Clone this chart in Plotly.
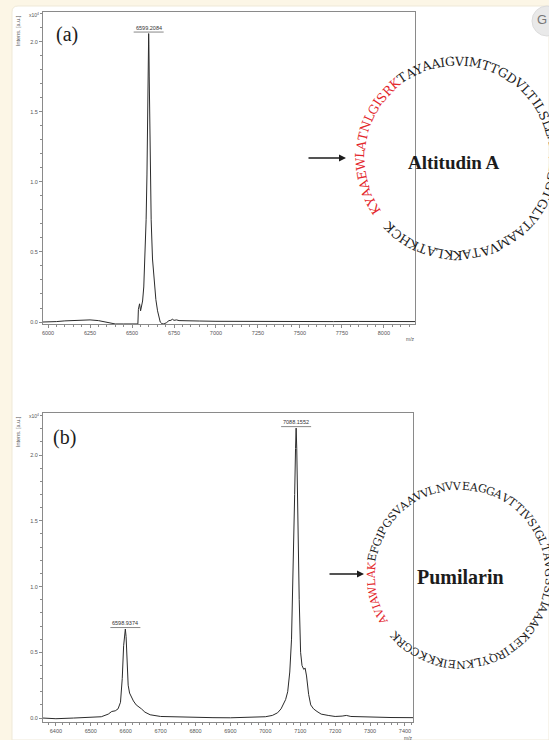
import numpy as np
import plotly.graph_objects as go

# ---------------- data ----------------
mz_a = [5970, 6000, 6050, 6100, 6150, 6200, 6250, 6300, 6350, 6380, 6400, 6450, 6500, 6535,
        6538, 6545, 6551, 6556, 6563, 6570, 6577, 6584, 6589, 6593, 6596, 6598, 6599.2,
        6600.5, 6602.5, 6605, 6609, 6614, 6622, 6632, 6642, 6652, 6660, 6668, 6678, 6690,
        6705, 6720, 6732, 6740, 6750, 6765, 6780, 6820, 6900, 7000, 7100, 7250, 7400, 7550,
        7700, 7850, 8000, 8185]
int_a = [0.0, 0.0, 0.003, 0.008, 0.012, 0.015, 0.015, 0.01, 0.0, -0.008, -0.014, -0.014, -0.014, -0.014,
         0.09, 0.13, 0.08, 0.11, 0.15, 0.25, 0.45, 0.73, 1.05, 1.4, 1.75, 1.98, 2.06,
         1.98, 1.75, 1.4, 1.05, 0.73, 0.45, 0.28, 0.16, 0.08, 0.03, 0.0, -0.012, -0.014,
         -0.005, 0.01, 0.012, 0.02, 0.012, 0.015, 0.01, 0.008, 0.007, 0.005, 0.004, 0.004, 0.003, 0.004,
         0.003, 0.004, 0.003, 0.003]

mz_b = [6363, 6400, 6450, 6500, 6530, 6550, 6560, 6570, 6578, 6585, 6590, 6594, 6597, 6598.9,
        6601, 6604, 6607, 6611, 6616, 6622, 6630, 6638, 6645, 6655, 6670, 6700, 6750, 6800,
        6850, 6900, 6950, 7000, 7020, 7035, 7045, 7052, 7058, 7064, 7070, 7075, 7080, 7084,
        7086.5, 7088.2, 7090, 7093, 7097, 7101, 7105, 7110, 7114, 7118, 7124, 7130, 7138, 7148,
        7160, 7180, 7200, 7220, 7232, 7245, 7280, 7320, 7360, 7423]
int_b = [0.0, -0.005, 0.0, 0.003, 0.01, 0.03, 0.05, 0.055, 0.07, 0.12, 0.3, 0.55, 0.66, 0.677,
         0.62, 0.4, 0.25, 0.19, 0.16, 0.13, 0.1, 0.085, 0.07, 0.045, 0.025, 0.012, 0.008, 0.005,
         0.003, 0.002, 0.005, 0.01, 0.02, 0.04, 0.07, 0.11, 0.14, 0.2, 0.35, 0.6, 1.1, 1.7,
         2.05, 2.205, 2.05, 1.5, 0.9, 0.5, 0.4, 0.37, 0.38, 0.32, 0.18, 0.1, 0.07, 0.05,
         0.03, 0.02, 0.012, 0.015, 0.02, 0.012, 0.008, 0.005, 0.004, 0.003]

peaks_a_mz = [6599.2084]
peaks_a_int = [2.06]
peaks_a_label = ["6599.2084"]
peaks_b_mz = [6598.9374, 7088.1552]
peaks_b_int = [0.677, 2.205]
peaks_b_label = ["6598.9374", "7088.1552"]

xticks_a = [6000, 6250, 6500, 6750, 7000, 7250, 7500, 7750, 8000]
xticks_b = [6400, 6500, 6600, 6700, 6800, 6900, 7000, 7100, 7200, 7300, 7400]
yticks = [0.0, 0.5, 1.0, 1.5, 2.0]
ytick_text = ["0.0", "0.5", "1.0", "1.5", "2.0"]

seq_alt_red = "KYAAEWLATNLGISRK"
seq_alt_black = "TAYAAIGVIMTTGDVLTILSLLAVVLGGTGLVTAAMVATAKKLATKHCK"
seq_pum_red = "AVIAWLAK"
seq_pum_black = "EFGIPGSVAAVVLNVVEAGGAVTTIVSIGLTAVGSSLIAAAGKETIRQYLKNEIKKKCGRK"

# ---------------- helpers ----------------
W, H = 549, 740
def px(x):
    return x / W
def py(y):
    return 1 - y / H

CREAM = "#fcf6e6"
RED = "#e3262b"
INK = "#1c1c1c"
AXC = "#8a8a8a"
TXC = "#555555"
SERIF = "DejaVu Serif"

fig = go.Figure()
fig.add_trace(go.Scatter(x=mz_a, y=int_a, mode="lines", line=dict(color="#2b2b2b", width=1),
                         xaxis="x", yaxis="y", showlegend=False, hoverinfo="skip"))
fig.add_trace(go.Scatter(x=mz_b, y=int_b, mode="lines", line=dict(color="#2b2b2b", width=1),
                         xaxis="x2", yaxis="y2", showlegend=False, hoverinfo="skip"))

def xaxis_cfg(dom, rng, tv, dminor, anchor):
    return dict(domain=dom, range=rng, anchor=anchor, tickvals=tv, ticktext=[str(v) for v in tv],
                ticks="outside", ticklen=3, tickwidth=0.8, tickcolor=AXC,
                minor=dict(ticks="outside", ticklen=2, dtick=dminor, tick0=tv[0], tickcolor=AXC, tickwidth=0.8),
                showline=True, mirror=True, linecolor=AXC, linewidth=1,
                showgrid=False, zeroline=False,
                tickfont=dict(family="Liberation Sans", size=5.5, color=TXC))

def yaxis_cfg(dom, rng, anchor):
    return dict(domain=dom, range=rng, anchor=anchor, tickvals=yticks, ticktext=ytick_text,
                ticks="outside", ticklen=3, tickwidth=0.8, tickcolor=AXC,
                minor=dict(ticks="outside", ticklen=2, dtick=0.1, tick0=0, tickcolor=AXC, tickwidth=0.8),
                showline=True, mirror=True, linecolor=AXC, linewidth=1,
                showgrid=False, zeroline=False,
                tickfont=dict(family="Liberation Sans", size=5.5, color=TXC))

layout = dict(
    width=W, height=H, margin=dict(l=0, r=0, t=0, b=0),
    paper_bgcolor=CREAM, plot_bgcolor="white",
    xaxis=xaxis_cfg([px(43), px(415)], [5970, 8185], xticks_a, 50, "y"),
    yaxis=yaxis_cfg([py(324), py(12)], [-0.0143, 2.214], "x"),
    xaxis2=xaxis_cfg([px(43), px(413)], [6363, 7423], xticks_b, 20, "y2"),
    yaxis2=yaxis_cfg([py(722), py(413)], [-0.03, 2.32], "x2"),
)
fig.update_layout(**layout)

shapes = []
annotations = []

def label(x, y, text, size, color=INK, family="Liberation Sans", angle=0, xa="center", ya="middle"):
    annotations.append(dict(x=px(x), y=py(y), xref="paper", yref="paper", text=text,
                            showarrow=False, xanchor=xa, yanchor=ya, textangle=angle,
                            font=dict(family=family, size=size, color=color)))

# white card with rounded corner
rr = 6
card = (f"M {px(12)},{py(6+rr)} Q {px(12)},{py(6)} {px(12+rr)},{py(6)} "
        f"L {px(549)},{py(6)} L {px(549)},{py(740)} L {px(12)},{py(740)} Z")
shapes.append(dict(type="path", xref="paper", yref="paper", path=card,
                   fillcolor="white", line=dict(color="#efe9d8", width=1), layer="below"))
# grey icon top right
shapes.append(dict(type="circle", xref="paper", yref="paper", x0=px(532), x1=px(562),
                   y0=py(36), y1=py(6), fillcolor="#e9e9e9", line=dict(color="#dcdcdc", width=1)))
label(542, 20, "G", 13, color="#777")

# axis decorations
for top in (12, 413):
    label(34, top + 3, "x10<sup>4</sup>", 5, color=TXC)
    label(18, top + 19, "Intens. [a.u.]", 5.5, color=TXC, angle=-90)
label(410, 339, "m/z", 5, color=TXC)
label(408, 738, "m/z", 5, color=TXC)

# panel letters
label(67, 35, "(a)", 20, family="Liberation Serif")
label(64, 438, "(b)", 20, family="Liberation Serif")

# peak labels with underline
def peak_labels(mzs, ints, labels, xr, yr):
    for m, v, t in zip(mzs, ints, labels):
        annotations.append(dict(x=m, y=v, xref=xr, yref=yr, text=t, showarrow=False,
                                xanchor="center", yanchor="bottom", yshift=1,
                                font=dict(family="Liberation Sans", size=5.5, color="#333")))
        shapes.append(dict(type="line", xref=xr, yref=yr, xsizemode="pixel", ysizemode="pixel",
                           xanchor=m, yanchor=v, x0=-15, x1=15, y0=1.5, y1=1.5,
                           line=dict(color="#555", width=0.7)))
peak_labels(peaks_a_mz, peaks_a_int, peaks_a_label, "x", "y")
peak_labels(peaks_b_mz, peaks_b_int, peaks_b_label, "x2", "y2")

# arrows
for (xa, xb, yy) in [(307, 346, 158), (328, 364, 574)]:
    annotations.append(dict(x=px(xb), y=py(yy), xref="paper", yref="paper", text="",
                            showarrow=True, ax=-(xb - xa), ay=0, axref="pixel", ayref="pixel",
                            arrowhead=2, arrowsize=1, arrowwidth=1.4, arrowcolor=INK))

# circular sequences (approximate DejaVu Serif advance widths, em units)
EM = {'A': .722, 'B': .735, 'C': .765, 'D': .802, 'E': .730, 'F': .695, 'G': .799, 'H': .872,
      'I': .395, 'J': .395, 'K': .747, 'L': .664, 'M': 1.0, 'N': .875, 'O': .820, 'P': .702,
      'Q': .820, 'R': .770, 'S': .720, 'T': .712, 'U': .815, 'V': .722, 'W': 1.0, 'X': .722,
      'Y': .712, 'Z': .710}

def ring(red, black, cx, cy, r, theta0, fsize, fill_deg):
    letters = [(c, RED) for c in red] + [(c, INK) for c in black]
    widths = [EM[c] * fsize for c, _ in letters]
    scale = (r * np.radians(fill_deg)) / sum(widths)
    s = 0.0
    for (c, col), w in zip(letters, widths):
        centre = s + w * scale / 2 - widths[0] * scale / 2
        th = np.radians(theta0) - centre / r
        s += w * scale
        x = cx + r * np.cos(th)
        y = cy - r * np.sin(th)
        label(x, y, c, fsize, color=col, family=SERIF, angle=90 - np.degrees(th))

ring(seq_alt_red, seq_alt_black, 457, 158, 97, 212, 12.5, 352)
ring(seq_pum_red, seq_pum_black, 460, 575, 89, 210, 11, 352)

label(454, 162, "<b>Altitudin A</b>", 19, family="Liberation Serif")
label(460, 577, "<b>Pumilarin</b>", 20, family="Liberation Serif")

fig.update_layout(shapes=shapes, annotations=annotations)
fig.write_html("out.html", config={"displayModeBar": False},
               post_script="document.body.style.margin='0';document.body.style.overflow='hidden';")
